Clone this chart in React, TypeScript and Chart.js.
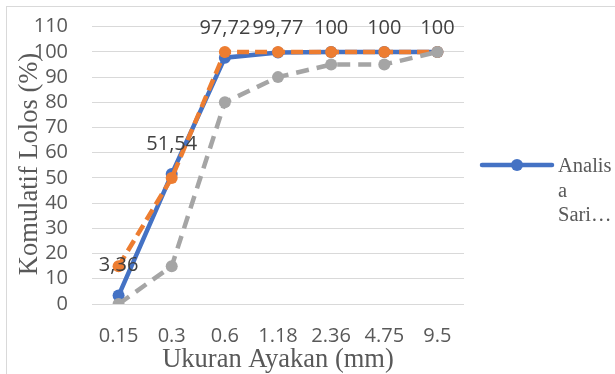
import React, { useEffect, useRef } from "react";
import { Chart, registerables } from "chart.js";

Chart.register(...registerables);

// Sieve sizes (mm) on the category axis
const sieveSizes = ["0.15", "0.3", "0.6", "1.18", "2.36", "4.75", "9.5"];

// Cumulative passing (%) per series
const analisaSari = [3.36, 51.54, 97.72, 99.77, 100, 100, 100];
const batasAtas = [15, 50, 100, 100, 100, 100, 100];
const batasBawah = [0, 15, 80, 90, 95, 95, 100];

// Labels printed above the first series
const analisaSariLabels = ["3,36", "51,54", "97,72", "99,77", "100", "100", "100"];

const legendLines = ["Analis", "a", "Sari\u2026"];

const yTicks = { min: 0, max: 110, step: 10 };

const yTitle = "Komulatif Lolos (%)";
const xTitle = "Ukuran Ayakan (mm)";

const BLUE = "#4472C4";
const ORANGE = "#ED7D31";
const GRAY = "#A5A5A5";
const TEXT = "#595959";
const SANS = "'Open Sans', 'Liberation Sans', sans-serif";
const SERIF = "'Liberation Serif', 'DejaVu Serif', serif";

const decorPlugin = {
  id: "decor",
  afterDraw(chart: any) {
    const ctx = chart.ctx as CanvasRenderingContext2D;
    const area = chart.chartArea;
    ctx.save();

    // chart frame
    ctx.strokeStyle = "#D9D9D9";
    ctx.lineWidth = 1;
    ctx.strokeRect(6.5, 6.5, chart.width + 10, chart.height + 10);

    // value labels for the first series
    const meta = chart.getDatasetMeta(0);
    ctx.fillStyle = "#404040";
    ctx.font = `20px ${SANS}`;
    ctx.textAlign = "center";
    ctx.textBaseline = "middle";
    meta.data.forEach((pt: any, i: number) => {
      const y = Math.max(pt.y - 30, 28);
      ctx.fillText(analisaSariLabels[i], pt.x, y);
    });

    // axis titles
    ctx.fillStyle = TEXT;
    ctx.font = `26.5px ${SERIF}`;
    ctx.textAlign = "center";
    ctx.textBaseline = "alphabetic";
    ctx.fillText(xTitle, (area.left + area.right) / 2, 367);

    ctx.save();
    ctx.translate(37, 164);
    ctx.rotate(-Math.PI / 2);
    ctx.fillText(yTitle, 0, 0);
    ctx.restore();

    // legend (first series only)
    ctx.strokeStyle = BLUE;
    ctx.lineWidth = 4.5;
    ctx.lineCap = "round";
    ctx.beginPath();
    ctx.moveTo(482, 165);
    ctx.lineTo(552, 165);
    ctx.stroke();
    ctx.fillStyle = BLUE;
    ctx.beginPath();
    ctx.arc(517, 165, 6, 0, Math.PI * 2);
    ctx.fill();

    ctx.fillStyle = TEXT;
    ctx.font = `20.5px ${SERIF}`;
    ctx.textAlign = "left";
    ctx.textBaseline = "middle";
    legendLines.forEach((t, i) => {
      ctx.fillText(t, 558, 167 + i * 24.5);
    });

    ctx.restore();
  },
};

export default function App() {
  const canvasRef = useRef<HTMLCanvasElement | null>(null);

  useEffect(() => {
    if (!canvasRef.current) return;
    const chart = new Chart(canvasRef.current, {
      type: "line",
      data: {
        labels: sieveSizes,
        datasets: [
          {
            label: "Analisa Saringan",
            data: analisaSari,
            borderColor: BLUE,
            backgroundColor: BLUE,
            borderWidth: 4.5,
            pointRadius: 6,
            pointBorderWidth: 0,
            pointBackgroundColor: BLUE,
            order: 2,
          },
          {
            label: "Batas Atas",
            data: batasAtas,
            borderColor: ORANGE,
            backgroundColor: ORANGE,
            borderWidth: 4.5,
            borderDash: [12, 6],
            pointRadius: 6,
            pointBorderWidth: 0,
            pointBackgroundColor: ORANGE,
            order: 1,
          },
          {
            label: "Batas Bawah",
            data: batasBawah,
            borderColor: GRAY,
            backgroundColor: GRAY,
            borderWidth: 4.5,
            borderDash: [13, 8],
            pointRadius: 6,
            pointBorderWidth: 0,
            pointBackgroundColor: GRAY,
            order: 0,
          },
        ],
      },
      options: {
        animation: false,
        responsive: true,
        maintainAspectRatio: false,
        layout: { padding: { top: 26.7, right: 151, left: 0, bottom: 0 } },
        plugins: {
          legend: { display: false },
          tooltip: { enabled: false },
          title: { display: false },
        },
        scales: {
          x: {
            offset: true,
            grid: { display: false, drawTicks: false },
            border: { display: false },
            ticks: {
              color: TEXT,
              font: { family: SANS, size: 20 },
              padding: 20,
              maxRotation: 0,
              autoSkip: false,
            },
            afterFit(scale: any) {
              scale.height = 70;
              scale.paddingLeft = 0;
              scale.paddingRight = 0;
            },
          },
          y: {
            min: yTicks.min,
            max: yTicks.max,
            grid: { color: "#D9D9D9", lineWidth: 1, drawTicks: false },
            border: { display: false },
            ticks: {
              stepSize: yTicks.step,
              color: TEXT,
              font: { family: SANS, size: 20 },
              padding: 24,
              autoSkip: false,
            },
            afterFit(scale: any) {
              scale.width = 92;
              scale.paddingTop = 0;
              scale.paddingBottom = 0;
            },
          },
        },
      },
      plugins: [decorPlugin],
    });
    return () => chart.destroy();
  }, []);

  return (
    <div style={{ position: "absolute", left: 0, top: 0, width: 615, height: 374, background: "#fff" }}>
      <canvas ref={canvasRef} />
    </div>
  );
}
